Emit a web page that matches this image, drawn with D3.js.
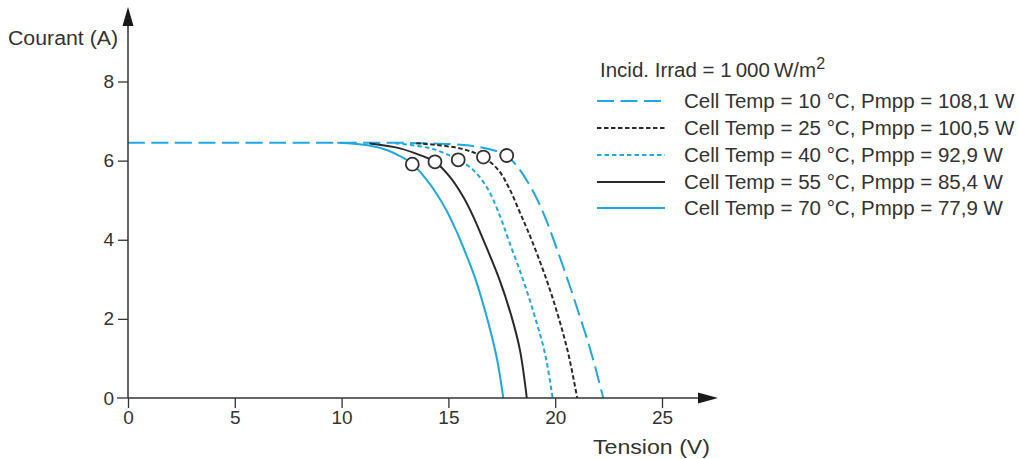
<!DOCTYPE html>
<html><head><meta charset="utf-8">
<script src="https://cdn.jsdelivr.net/npm/d3@7"></script>
<style>
body{margin:0;background:#fff;}
text{font-family:"Liberation Sans",Arial,sans-serif;fill:#333;}
</style></head>
<body><svg id="c" width="1019" height="459"></svg>
<script>
// ---- data (V, A) ----
const xTicks = [0, 5, 10, 15, 20, 25];
const yTicks = [0, 2, 4, 6, 8];
const temps = [10, 25, 40, 55, 70];
const pmpp = ["108,1", "100,5", "92,9", "85,4", "77,9"];
const curve10 = [[0,6.45],[10,6.45],[14,6.44],[16,6.38],[17.2,6.25],[17.73,6.12],[18.2,5.87],[18.67,5.5],[19.13,5.05],[19.52,4.58],[19.91,4.02],[20.54,3.06],[21.16,2.05],[21.71,1.1],[22.25,0]];
const curve25 = [[13.5,6.44],[15.54,6.31],[16.64,6.09],[17.34,5.76],[17.85,5.3],[18.3,4.75],[18.62,4.35],[18.9,3.99],[19.6,2.98],[20.15,2.05],[20.61,1.13],[21.03,0]];
const curve40 = [[12.5,6.44],[14.0,6.33],[14.76,6.2],[15.46,6.02],[16.17,5.76],[16.85,5.28],[17.45,4.55],[17.82,3.99],[18.5,2.98],[19.05,2.05],[19.52,1.13],[19.88,0]];
const curve55 = [[11.3,6.43],[12.73,6.31],[13.67,6.14],[14.37,5.97],[15.07,5.59],[15.7,5.08],[16.17,4.58],[16.64,3.99],[17.4,2.98],[17.96,2.05],[18.35,1.21],[18.67,0]];
const curve70 = [[9.8,6.45],[11.3,6.38],[12.2,6.25],[12.75,6.11],[13.33,5.91],[13.9,5.57],[14.44,5.17],[14.9,4.75],[15.28,4.33],[15.55,4.0],[16.27,3.0],[16.82,2.0],[17.27,1.0],[17.57,0]];
const mppV = [17.73, 16.64, 15.46, 14.37, 13.31];
const mppI = [6.13, 6.09, 6.02, 5.97, 5.91];

const curves = [curve10, curve25, curve40, curve55, curve70];
const blue = "#1fa8e2", dark = "#2a2a2a";
const styles = [
  {c: blue, d: "17,6.5", w: 2},
  {c: dark, d: "4.5,2.5", w: 2},
  {c: blue, d: "4.5,3", w: 2},
  {c: dark, d: null, w: 2},
  {c: blue, d: null, w: 2}
];

const svg = d3.select("#c");
const x = d3.scaleLinear().domain([0, 25]).range([128, 662]);
const y = d3.scaleLinear().domain([0, 8]).range([398, 81.5]);

// curves
const line = d3.line().x(d => x(d[0])).y(d => y(d[1])).curve(d3.curveCatmullRom.alpha(0.5));
curves.forEach((cv, i) => {
  svg.append("path").attr("d", line(cv)).attr("fill", "none")
    .attr("stroke", styles[i].c).attr("stroke-width", styles[i].w)
    .attr("stroke-dasharray", styles[i].d);
});

// axes
const ax = svg.append("g").attr("transform", `translate(0,${y(0)})`)
  .call(d3.axisBottom(x).tickValues(xTicks).tickSize(10).tickPadding(3));
const ay = svg.append("g").attr("transform", `translate(${x(0)},0)`)
  .call(d3.axisLeft(y).tickValues(yTicks.filter(v => v > 0)).tickSize(10).tickPadding(4));
[ax, ay].forEach(g => {
  g.select(".domain").remove();
  g.selectAll(".tick line").attr("stroke", "#333").attr("stroke-width", 1.3);
  g.selectAll(".tick text").style("font-size", "19px").style("font-family", '"Liberation Sans",Arial,sans-serif').attr("fill", "#333");
});
// y "0" label (aligned with x axis)
svg.append("text").attr("x", 114).attr("y", y(0)).attr("dy", "0.35em").attr("text-anchor", "end")
  .style("font-size", "19px").text(yTicks[0]);
svg.append("line").attr("x1", 117).attr("x2", x(0)).attr("y1", y(0)).attr("y2", y(0)).attr("stroke", "#333").attr("stroke-width", 1.3);

// axis lines with arrows
svg.append("line").attr("x1", x(0)).attr("x2", 700).attr("y1", y(0)).attr("y2", y(0)).attr("stroke", "#333").attr("stroke-width", 1.5);
svg.append("line").attr("x1", x(0)).attr("x2", x(0)).attr("y1", y(0)).attr("y2", 24).attr("stroke", "#333").attr("stroke-width", 1.5);
svg.append("path").attr("d", `M718,${y(0)} L698,${y(0)-5.5} L698,${y(0)+5.5} Z`).attr("fill", "#1a1a1a");
svg.append("path").attr("d", `M${x(0)},7 L${x(0)-5.5},26 L${x(0)+5.5},26 Z`).attr("fill", "#1a1a1a");

// axis titles
svg.append("text").attr("x", 8).attr("y", 38).attr("dy", "0.35em").style("font-size", "20px")
  .attr("textLength", 110).attr("lengthAdjust", "spacingAndGlyphs").text("Courant (A)");
svg.append("text").attr("x", 593).attr("y", 447).attr("dy", "0.35em").style("font-size", "20px")
  .attr("textLength", 117).attr("lengthAdjust", "spacingAndGlyphs").text("Tension (V)");

// MPP circles
mppV.forEach((v, i) => {
  svg.append("circle").attr("cx", x(v)).attr("cy", y(mppI[i])).attr("r", 6.5)
    .attr("fill", "#fff").attr("stroke", "#333").attr("stroke-width", 1.8);
});

// legend
const hdr = svg.append("text").attr("x", 600).attr("y", 70).attr("dy", "0.35em").style("font-size", "20.5px");
hdr.append("tspan").text("Incid. Irrad = 1\u2009000\u2009W/m");
hdr.append("tspan").attr("dy", "-8").style("font-size", "16px").text("2");
const rowY = [101, 128, 155, 182, 208];
temps.forEach((t, i) => {
  svg.append("line").attr("x1", 597).attr("x2", 665).attr("y1", rowY[i]).attr("y2", rowY[i])
    .attr("stroke", styles[i].c).attr("stroke-width", styles[i].w)
    .attr("stroke-dasharray", styles[i].d);
  svg.append("text").attr("x", 684).attr("y", rowY[i]).attr("dy", "0.35em").style("font-size", "20.5px")
    .text(`Cell Temp = ${t} \u00B0C, Pmpp = ${pmpp[i]} W`);
});
</script></body></html>
